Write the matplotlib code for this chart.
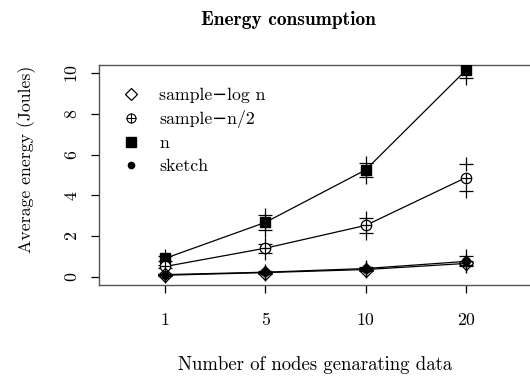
import numpy as np
import matplotlib.pyplot as plt
from matplotlib.legend_handler import HandlerTuple
from matplotlib.lines import Line2D

plt.rcParams['font.family'] = ['cmr10', 'DejaVu Serif']
plt.rcParams['axes.formatter.use_mathtext'] = True

# -----------------------
# Data
# -----------------------
nodes = ['1', '5', '10', '20']
pos = np.arange(1, len(nodes) + 1)

log_n_mean = [0.07, 0.20, 0.35, 0.65]
log_n_err = [0.05, 0.05, 0.06, 0.10]
half_mean = [0.50, 1.40, 2.52, 4.87]
half_err = [0.08, 0.22, 0.35, 0.65]
full_mean = [0.90, 2.67, 5.25, 10.15]
full_err = [0.12, 0.36, 0.33, 0.40]
sketch_mean = [0.10, 0.22, 0.40, 0.75]
sketch_err = [0.04, 0.05, 0.06, 0.25]

# -----------------------
# Plot
# -----------------------
fig = plt.figure(figsize=(5.3, 3.8), dpi=100)
ax = fig.add_axes([0.1868, 0.25, 0.8170, 0.579])

lw = 0.9
fs = 12.8

def err_marks(mean, err):
    m = np.array(mean)
    e = np.array(err)
    ax.scatter(pos, m + e, marker='+', s=110, c='k', linewidths=lw, zorder=4)
    ax.scatter(pos, m - e, marker='+', s=110, c='k', linewidths=lw, zorder=4)

ax.plot(pos, full_mean, '-', color='k', lw=lw)
ax.plot(pos, full_mean, 's', color='k', ms=7, zorder=5)
err_marks(full_mean, full_err)

ax.plot(pos, half_mean, '-', color='k', lw=lw)
ax.plot(pos, half_mean, 'o', mfc='white', mec='k', mew=lw, ms=7.5, zorder=5)
ax.plot(pos, half_mean, '+', color='k', mew=lw, ms=7.5, zorder=6)
err_marks(half_mean, half_err)

ax.plot(pos, sketch_mean, '-', color='k', lw=lw)
ax.plot(pos, sketch_mean, 'o', color='k', ms=5.5, zorder=5)
err_marks(sketch_mean, sketch_err)

ax.plot(pos, log_n_mean, '-', color='k', lw=lw)
ax.plot(pos, log_n_mean, 'D', mfc='none', mec='k', mew=lw, ms=7, zorder=6)
err_marks(log_n_mean, log_n_err)

ax.set_xlim(0.34, 4.66)
ax.set_ylim(-0.41, 10.41)
ax.set_xticks(pos)
ax.set_xticklabels(nodes)
ax.set_yticks([0, 2, 4, 6, 8, 10])
for lab in ax.get_yticklabels():
    lab.set_rotation(90)
    lab.set_va('center')
ax.tick_params(length=6, width=0.9, labelsize=fs, color='k')
ax.tick_params(axis='x', pad=14)
ax.tick_params(axis='y', pad=8)
for sp in ax.spines.values():
    sp.set_color('#555555')
    sp.set_linewidth(1.0)

ax.set_xlabel('Number of nodes genarating data', fontsize=13.5, labelpad=20)
ax.set_ylabel('Average energy (Joules)', fontsize=fs)
ax.yaxis.set_label_coords(-0.145, 0.57)
fig.suptitle('Energy consumption', fontsize=14, fontweight='bold',
             family=['cmb10', 'DejaVu Serif'], x=0.545, y=0.97)

h_log = Line2D([], [], marker='D', ls='none', mfc='none', mec='k', mew=lw, ms=6.5)
h_half = (Line2D([], [], marker='o', ls='none', mfc='none', mec='k', mew=0.8, ms=6.5),
          Line2D([], [], marker='+', ls='none', color='k', mew=0.8, ms=6.5))
h_full = Line2D([], [], marker='s', ls='none', color='k', ms=6.5)
h_sk = Line2D([], [], marker='o', ls='none', color='k', ms=4.5)
ax.legend([h_log, h_half, h_full, h_sk],
          ['sample\u2212log n', 'sample\u2212n/2', 'n', 'sketch'],
          handler_map={tuple: HandlerTuple(ndivide=1, pad=0)},
          loc='upper left', bbox_to_anchor=(0.012, 0.97), frameon=False,
          fontsize=fs, handlelength=1.2, handletextpad=1.0, labelspacing=0.42)

fig.savefig('out.png', dpi=100)
